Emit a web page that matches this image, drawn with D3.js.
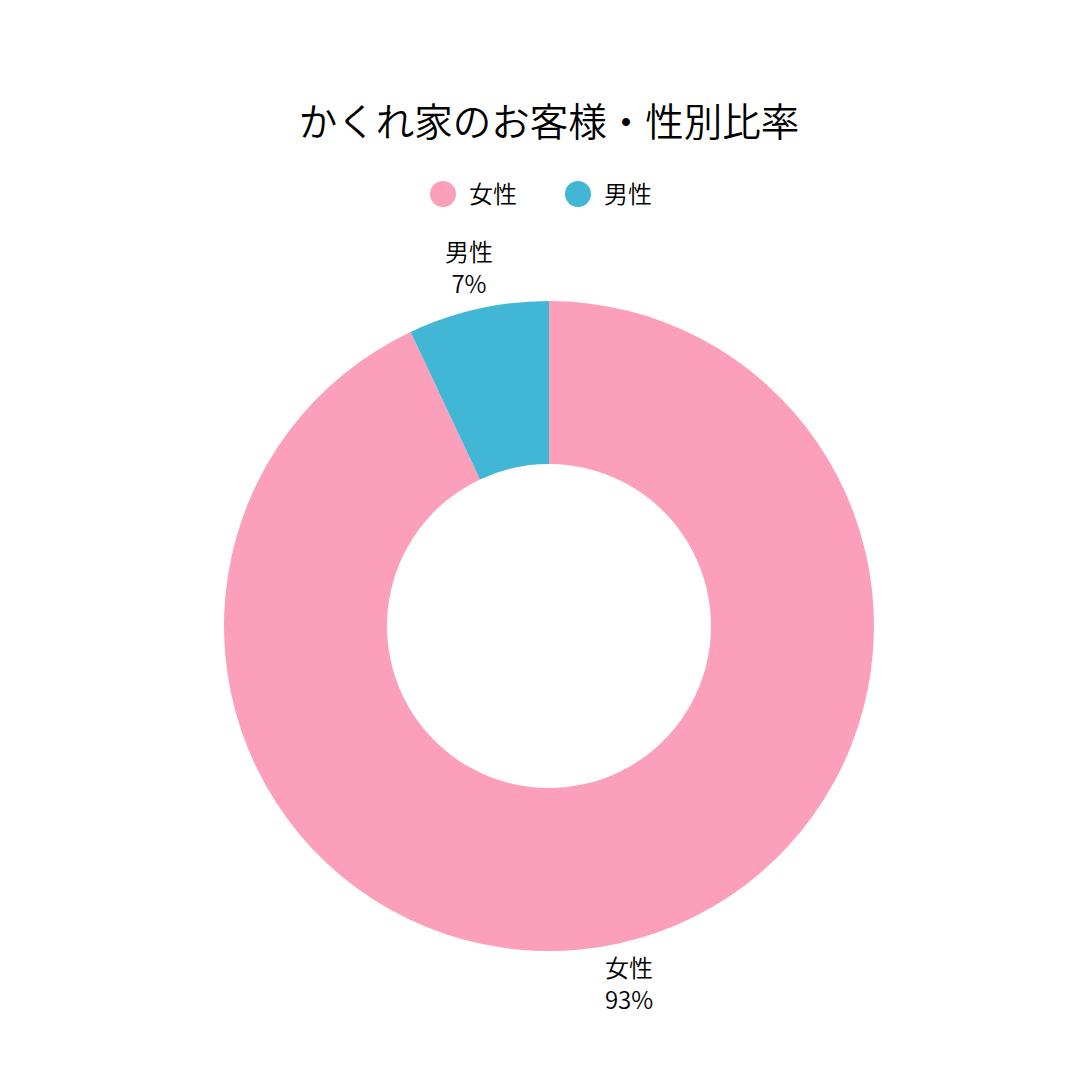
<!DOCTYPE html>
<html>
<head>
<meta charset="utf-8">
<script src="https://cdn.jsdelivr.net/npm/d3@7"></script>
<style>
  body { margin: 0; background: #fff; }
  svg { display: block; font-family: "Noto Sans CJK JP", "Noto Sans", sans-serif; font-weight: 350; }
</style>
</head>
<body>
<div class="canvas"></div>
<script>
const categories = ['女性', '男性'];
const values = [93, 7];
const colours = ['#fc9fba', '#42b7d5'];
const title = 'かくれ家のお客様・性別比率';

const dims = { width: 1080, height: 1080, outer: 325, inner: 162 };
const cent = { x: 549, y: 626 };

const data = categories.map((name, i) => ({ name, value: values[i] }));

// svg container
const svg = d3.select('.canvas')
  .append('svg')
  .attr('width', dims.width)
  .attr('height', dims.height);

svg.append('text')
  .attr('x', cent.x)
  .attr('y', 136)
  .attr('text-anchor', 'middle')
  .attr('font-size', 38.5)
  .attr('fill', '#000')
  .text(title);

const colour = d3.scaleOrdinal().domain(categories).range(colours);

// legend
const legendX = [443, 578];
const legend = svg.selectAll('.legend')
  .data(categories)
  .enter()
  .append('g')
  .attr('class', 'legend')
  .attr('transform', (d, i) => `translate(${legendX[i]}, 194)`);

legend.append('circle')
  .attr('r', 13)
  .attr('fill', d => colour(d));

legend.append('text')
  .attr('x', 26)
  .attr('y', 9)
  .attr('font-size', 24)
  .attr('fill', '#000')
  .text(d => d);

const graph = svg.append('g')
  .attr('transform', `translate(${cent.x}, ${cent.y})`);

const pie = d3.pie()
  .sort(null)
  .value(d => d.value);

const arcPath = d3.arc()
  .outerRadius(dims.outer)
  .innerRadius(dims.inner);

const labelArc = d3.arc()
  .outerRadius(367)
  .innerRadius(367);

graph.selectAll('path')
  .data(pie(data))
  .enter()
  .append('path')
  .attr('d', arcPath)
  .attr('fill', d => colour(d.data.name));

// slice labels outside the ring
const labels = graph.selectAll('.label')
  .data(pie(data))
  .enter()
  .append('text')
  .attr('class', 'label')
  .attr('transform', d => `translate(${labelArc.centroid(d)})`)
  .attr('text-anchor', 'middle')
  .attr('font-size', 24)
  .attr('fill', '#000');

labels.append('tspan')
  .attr('x', 0)
  .attr('y', d => d.endAngle > Math.PI * 1.5 ? -7 : -5)
  .text(d => d.data.name);

labels.append('tspan')
  .attr('x', 0)
  .attr('y', d => d.endAngle > Math.PI * 1.5 ? 25 : 27)
  .text(d => d.data.value + '%');
</script>
</body>
</html>
